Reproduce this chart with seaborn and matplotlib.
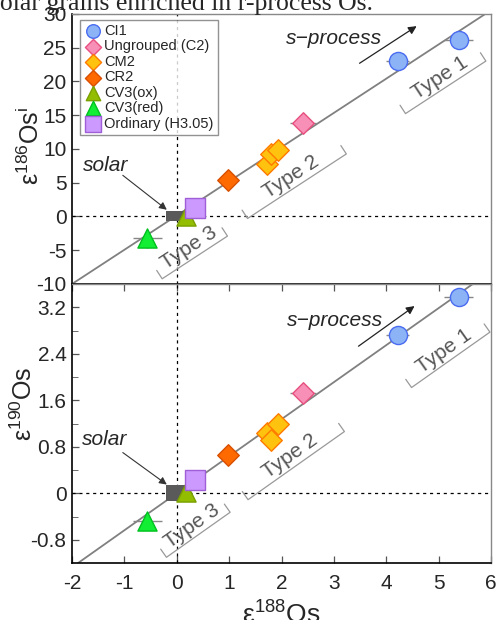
import numpy as np
import pandas as pd
import matplotlib
matplotlib.use("Agg")
import matplotlib.pyplot as plt
import seaborn as sns

# ---------------- data ----------------
groups = ["CI1", "Ungrouped (C2)", "CM2", "CR2", "CV3(ox)", "CV3(red)", "Ordinary (H3.05)"]
ci1_x = [4.22, 5.38]
ci1_y186 = [23.0, 26.1]
ci1_y190 = [2.72, 3.37]
c2_x = [2.41]
c2_y186 = [13.9]
c2_y190 = [1.73]
cm2_x = [1.72, 1.79, 1.93]
cm2_y186 = [7.8, 9.3, 9.9]
cm2_y190 = [1.04, 0.92, 1.20]
cr2_x = [0.98]
cr2_y186 = [5.4]
cr2_y190 = [0.65]
cv3ox_x = [0.17]
cv3ox_y186 = [0.0]
cv3ox_y190 = [0.03]
cv3red_x = [-0.56]
cv3red_y186 = [-3.2]
cv3red_y190 = [-0.47]
ord_x = [0.34]
ord_y186 = [1.3]
ord_y190 = [0.22]

solar_x = [0.0]
solar_y = [0.0]

# error bars (x, top y, bottom y)
ci1_xerr = [0.22, 0.27]
c2_xerr = [0.25]
cm2_xerr = [0.12, 0.15, 0.1]
cv3red_xerr = [0.27]
ci1_yerr186 = [0.4, 0.5]
c2_yerr186 = [1.2]
cv3red_yerr186 = [1.4]
ci1_yerr190 = [0.1, 0.12]
c2_yerr190 = [0.12]
cv3red_yerr190 = [0.12]

# reference lines (slope, intercept)
line186 = (5.07, 0.14)
line190 = (0.637, 0.0)

x_ticks = [-2, -1, 0, 1, 2, 3, 4, 5, 6]
y186_ticks = [-10, -5, 0, 5, 10, 15, 20, 25, 30]
y190_ticks = [-0.8, 0, 0.8, 1.6, 2.4, 3.2]
y190_ticklabels = ["-0.8", "0", "0.8", "1.6", "2.4", "3.2"]

# ---------------- style ----------------
sns.set_style("ticks")
plt.rcParams["font.family"] = ["Liberation Sans", "DejaVu Sans"]
plt.rcParams["mathtext.fontset"] = "custom"
plt.rcParams["mathtext.rm"] = "Liberation Sans"
plt.rcParams["mathtext.it"] = "Liberation Sans:italic"
plt.rcParams["axes.unicode_minus"] = False

styles = {
    "CI1": dict(marker="o", s=170, color="#8db3f7", ec="#4a6cf0"),
    "Ungrouped (C2)": dict(marker="D", s=120, color="#f78fb7", ec="#e8507f"),
    "CM2": dict(marker="D", s=120, color="#ffc20e", ec="#ff7a00"),
    "CR2": dict(marker="D", s=120, color="#ff6a00", ec="#d84f00"),
    "CV3(ox)": dict(marker="^", s=190, color="#93bd00", ec="#7aa000"),
    "CV3(red)": dict(marker="^", s=190, color="#11ee33", ec="#00c020"),
    "Ordinary (H3.05)": dict(marker="s", s=210, color="#cc99ff", ec="#9f5fd6"),
}

W, H = 497, 620
fig = plt.figure(figsize=(W / 100, H / 100), dpi=100)
L, R = 72 / W, 491 / W
ax1 = fig.add_axes([L, 1 - 284 / H, R - L, (284 - 14) / H])
ax2 = fig.add_axes([L, 1 - 563 / H, R - L, (563 - 284) / H])

sets186 = {
    "CI1": (ci1_x, ci1_y186, ci1_xerr, ci1_yerr186),
    "Ungrouped (C2)": (c2_x, c2_y186, c2_xerr, c2_yerr186),
    "CM2": (cm2_x, cm2_y186, cm2_xerr, None),
    "CR2": (cr2_x, cr2_y186, None, None),
    "CV3(ox)": (cv3ox_x, cv3ox_y186, None, None),
    "CV3(red)": (cv3red_x, cv3red_y186, cv3red_xerr, cv3red_yerr186),
    "Ordinary (H3.05)": (ord_x, ord_y186, None, None),
}
sets190 = {
    "CI1": (ci1_x, ci1_y190, ci1_xerr, ci1_yerr190),
    "Ungrouped (C2)": (c2_x, c2_y190, c2_xerr, c2_yerr190),
    "CM2": (cm2_x, cm2_y190, cm2_xerr, None),
    "CR2": (cr2_x, cr2_y190, None, None),
    "CV3(ox)": (cv3ox_x, cv3ox_y190, None, None),
    "CV3(red)": (cv3red_x, cv3red_y190, cv3red_xerr, cv3red_yerr190),
    "Ordinary (H3.05)": (ord_x, ord_y190, None, None),
}

GRID_C = "#888888"


def setup(ax, ylim, yticks, yticklabels, line, sets, legend):
    ax.set_xlim(-2, 6)
    ax.set_ylim(*ylim)
    ax.axhline(0, color="k", lw=0.9, ls=(0, (2.5, 3)), zorder=1)
    ax.axvline(0, color="k", lw=0.9, ls=(0, (2.5, 3)), zorder=1)
    xs = np.array([-3, 7])
    ax.plot(xs, line[0] * xs + line[1], color="#808080", lw=1.3, zorder=2)
    for g in groups:
        x, y, xe, ye = sets[g]
        if xe is not None or ye is not None:
            ax.errorbar(x, y, xerr=xe, yerr=ye, fmt="none", ecolor="#888888",
                        elinewidth=1.0, capsize=0, zorder=3)
    for g in groups:
        x, y, _, _ = sets[g]
        st = styles[g]
        sns.scatterplot(x=x, y=y, ax=ax, marker=st["marker"], s=st["s"],
                        color=st["color"], edgecolor=st["ec"], linewidth=1.0,
                        label=g if legend else None, zorder=5, legend=legend)
    ax.set_yticks(yticks)
    ax.set_yticklabels(yticklabels)
    ax.set_xticks(x_ticks)
    for side in ["left", "bottom"]:
        ax.spines[side].set_color("k")
        ax.spines[side].set_linewidth(1.2)
    for side in ["top", "right"]:
        ax.spines[side].set_color(GRID_C)
        ax.spines[side].set_linewidth(1.0)
    ax.tick_params(direction="in", length=5, width=0.9, labelsize=15, color="#555555",
                   pad=4)


setup(ax1, (-10, 30), y186_ticks, [str(v) for v in y186_ticks], line186, sets186, True)
setup(ax2, (-1.2, 3.6), y190_ticks, y190_ticklabels, line190, sets190, False)

ax1.tick_params(axis="x", labelbottom=False, bottom=False)
ax2.tick_params(axis="x", top=True, pad=8)
ax2.set_yticks([-0.4, 0.4, 1.2, 2.0, 2.8], minor=True)
ax2.tick_params(axis="y", which="minor", direction="in", length=4, color="#555555")

# solar marks
rect_top = [(-1, -0.45), (1, -0.45), (1, 0.45), (-1, 0.45)]
rect_bot = [(-1, -0.75), (1, -0.75), (1, 0.75), (-1, 0.75)]
ax1.scatter(solar_x, solar_y, marker=rect_top, s=260, color="#5a5a5a", zorder=4, lw=0)
ax2.scatter(solar_x, solar_y, marker=rect_bot, s=260, color="#5a5a5a", zorder=4, lw=0)

# legend
leg = ax1.legend(loc="upper left", bbox_to_anchor=(0.012, 0.99), frameon=True,
                 fancybox=False, edgecolor="#777777", fontsize=10.5, handletextpad=0.15,
                 labelspacing=0.1, borderpad=0.3, handlelength=1.2, markerscale=0.75,
                 borderaxespad=0.2)
leg.get_frame().set_linewidth(1.0)

# labels
ax1.set_ylabel(r"ε$^{186}$Os$^{\mathrm{i}}$", fontsize=18, labelpad=2)
ax2.set_ylabel(r"ε$^{190}$Os", fontsize=18, labelpad=2)
ax1.yaxis.set_label_coords(-0.066, 0.51)
ax2.yaxis.set_label_coords(-0.083, 0.57)
ax2.set_xlabel(r"ε$^{188}$Os", fontsize=19, labelpad=6)

# s-process and solar annotations
for ax, tx, ty, a0, a1, sx, sy, b0, b1 in [
    (ax1, 3.0, 26.4, (3.49, 22.7), (4.58, 28.2), -1.35, 7.5, (-1.03, 6.1), (-0.19, 1.0)),
    (ax2, 3.03, 2.98, (3.47, 2.53), (4.54, 3.22), -1.37, 0.92, (-1.03, 0.70), (-0.19, 0.15)),
]:
    ax.text(tx, ty, "s\u2212process", fontsize=15, style="italic", ha="center", va="center")
    ax.annotate("", xy=a1, xytext=a0,
                arrowprops=dict(arrowstyle="-|>", color="#222222", lw=0.9,
                                mutation_scale=12, shrinkA=0, shrinkB=0))
    ax.text(sx, sy, "solar", fontsize=15, style="italic", ha="center", va="center")
    ax.annotate("", xy=b1, xytext=b0,
                arrowprops=dict(arrowstyle="-|>", color="#333333", lw=0.8,
                                mutation_scale=11, shrinkA=0, shrinkB=0))

# Type labels with brackets
type_names = ["Type 1", "Type 2", "Type 3"]
type_pos186 = [(5.02, 20.5), (2.18, 5.85), (0.23, -4.7)]
type_pos190 = [(5.11, 2.45), (2.16, 0.63), (0.29, -0.56)]
type_len = [96, 118, 78]


def draw_type(ax, line, name, pos, length):
    p0 = ax.transData.transform((0, line[1]))
    p1 = ax.transData.transform((1, line[0] + line[1]))
    d = p1 - p0
    ang = np.degrees(np.arctan2(d[1], d[0]))
    u = d / np.hypot(*d)
    n = np.array([u[1], -u[0]])  # pointing below the line
    ax.text(pos[0], pos[1], name, rotation=ang, rotation_mode="anchor",
            ha="center", va="center", fontsize=15, color="#555555")
    c = ax.transData.transform(pos) + n * 11
    a = c - u * length / 2
    b = c + u * length / 2
    tick = -n * 10
    pts = np.array([a + tick, a, b, b + tick])
    ax.plot(pts[:, 0], pts[:, 1], transform=None, color="#999999", lw=0.9,
            clip_on=False)


for name, p1, p2, ln in zip(type_names, type_pos186, type_pos190, type_len):
    draw_type(ax1, line186, name, p1, ln)
    draw_type(ax2, line190, name, p2, ln)

# cropped caption at top
fig.text(-10 / W, 1 - 10 / H, "solar grains enriched in r-process Os.",
         fontsize=18.5, family="Liberation Serif", ha="left", va="baseline")

fig.savefig("out.png", dpi=100)
